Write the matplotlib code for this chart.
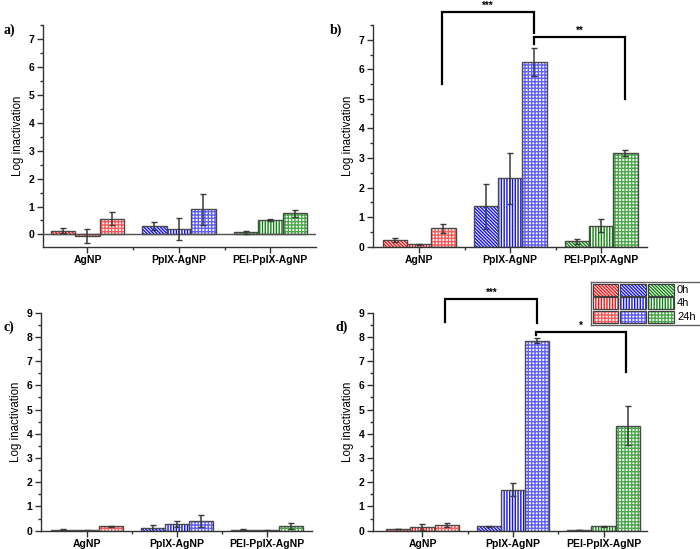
import matplotlib
matplotlib.use('Agg')
import matplotlib.pyplot as plt
from matplotlib.patches import Rectangle
from matplotlib.ticker import MultipleLocator

plt.rcParams['font.family'] = ['Liberation Sans', 'DejaVu Sans']
plt.rcParams['font.weight'] = 'bold'
plt.rcParams['hatch.linewidth'] = 1.0

groups = ['AgNP', 'PpIX-AgNP', 'PEI-PpIX-AgNP']
times = ['0h', '4h', '24h']

# 値: 行 = 0h, 4h, 24h / 列 = AgNP, PpIX-AgNP, PEI-PpIX-AgNP
a_mean = [[0.13, 0.31, 0.07], [-0.05, 0.20, 0.52], [0.56, 0.90, 0.75]]
a_err = [[0.09, 0.14, 0.04], [0.26, 0.40, 0.04], [0.24, 0.56, 0.11]]
b_mean = [[0.23, 1.36, 0.18], [0.08, 2.32, 0.71], [0.62, 6.24, 3.17]]
b_err = [[0.07, 0.77, 0.09], [0.02, 0.86, 0.22], [0.14, 0.48, 0.10]]
c_mean = [[0.04, 0.12, 0.04], [0.01, 0.27, 0.01], [0.18, 0.40, 0.18]]
c_err = [[0.02, 0.13, 0.02], [0.01, 0.11, 0.01], [0.02, 0.24, 0.12]]
d_mean = [[0.07, 0.19, 0.03], [0.15, 1.69, 0.18], [0.23, 7.85, 4.33]]
d_err = [[0.02, 0.02, 0.01], [0.12, 0.27, 0.03], [0.07, 0.12, 0.81]]

# 有意差の括弧: (x左, x右, 左脚下端, 上端, 右脚下端, 記号)
b_brackets = [(0.25, 1.267, 5.5, 7.93, 7.22, '***'), (1.267, 2.267, 6.85, 7.08, 4.98, '**')]
d_brackets = [(0.25, 1.27, 8.62, 9.55, 8.58, '***'), (1.25, 2.25, 8.07, 8.21, 6.55, '*')]

group_colors = ['#ff1010', '#1010ff', '#0f820f']
group_colors_light = ['#ff5a5a', '#6060ff', '#4aa84a']
hatches = ['\\' * 10, '|' * 6, '+' * 5]
width = 0.267

W, H = 700, 549
fig = plt.figure(figsize=(7.0, 5.49), dpi=100)


def px_axes(left, top, right, bottom):
    return fig.add_axes([left / W, 1 - bottom / H, (right - left) / W, (bottom - top) / H])


def draw_panel(ax, mean, err, ylim, xlim, ymax_tick, zero_line=False):
    for ti in range(3):
        for gi in range(3):
            x = gi + (ti - 1) * width
            col = group_colors_light[gi] if ti == 2 else group_colors[gi]
            ax.bar(x, mean[ti][gi], width, color='white', edgecolor=col,
                   hatch=hatches[ti], linewidth=0, zorder=2)
            ax.bar(x, mean[ti][gi], width, fill=False, edgecolor='#4a4a4a',
                   linewidth=1.0, zorder=3)
            ax.errorbar(x, mean[ti][gi], yerr=err[ti][gi], fmt='none',
                        ecolor='#3a3a3a', elinewidth=1.1, capsize=2.5,
                        capthick=1.0, zorder=4)
    if zero_line:
        ax.axhline(0, color='#505050', lw=1.0, zorder=3)
    ax.set_xlim(*xlim)
    ax.set_ylim(*ylim)
    ax.set_xticks([0, 1, 2])
    ax.set_xticklabels(groups)
    ax.set_xticks([0.5, 1.5], minor=True)
    ax.set_yticks(range(0, ymax_tick + 1))
    ax.yaxis.set_minor_locator(MultipleLocator(0.5))
    ax.tick_params(axis='both', which='major', direction='out', length=4,
                   width=1, color='#333333', labelsize=7.5, pad=2)
    ax.tick_params(axis='both', which='minor', direction='out', length=2.5,
                   width=1, color='#333333')
    for s in ['top', 'right']:
        ax.spines[s].set_visible(False)
    for s in ['left', 'bottom']:
        ax.spines[s].set_color('#333333')
        ax.spines[s].set_linewidth(1.0)
    ax.set_ylabel('Log inactivation', fontsize=8.3, labelpad=3)


def draw_brackets(ax, brackets, fs):
    for x0, x1, y0, ytop, y1, sig in brackets:
        ax.plot([x0, x0, x1, x1], [y0, ytop, ytop, y1], color='black', lw=1.6,
                clip_on=False, zorder=5, solid_joinstyle='miter')
        ax.text((x0 + x1) / 2, ytop + 0.05, sig, ha='center', va='bottom',
                fontsize=fs, clip_on=False)


ax_a = px_axes(42.7, 25, 316, 247)
draw_panel(ax_a, a_mean, a_err, (-0.45, 7.5), (-0.49, 2.5), 7, zero_line=True)

ax_b = px_axes(372.7, 25, 646.7, 246.7)
draw_panel(ax_b, b_mean, b_err, (0, 7.5), (-0.51, 2.5), 7)
draw_brackets(ax_b, b_brackets, 7)

ax_c = px_axes(40.7, 312.7, 311.7, 530.7)
draw_panel(ax_c, c_mean, c_err, (0, 9), (-0.51, 2.5), 9)

ax_d = px_axes(372.7, 312.7, 647, 530.7)
draw_panel(ax_d, d_mean, d_err, (0, 9), (-0.55, 2.48), 9)
draw_brackets(ax_d, d_brackets, 7)

for lab, (x, y) in zip(['a)', 'b)', 'c)', 'd)'], [(4, 30), (330, 30), (4, 327), (336, 327)]):
    fig.text(x / W, 1 - y / H, lab, fontsize=10, fontweight='bold',
             family='Liberation Serif', va='center', ha='left')

# 凡例
leg = px_axes(591, 282, 703, 324.5)
leg.set_xlim(591, 703)
leg.set_ylim(324.5, 282)
leg.set_xticks([])
leg.set_yticks([])
for s in leg.spines.values():
    s.set_color('#606060')
    s.set_linewidth(1.0)
col_x = [592.5, 620.3, 648.3]
row_y = [283.5, 297.3, 311.2]
for ti in range(3):
    for gi in range(3):
        col = group_colors_light[gi] if ti == 2 else group_colors[gi]
        leg.add_patch(Rectangle((col_x[gi], row_y[ti]), 25.5, 12, facecolor='white',
                                edgecolor=col, hatch=hatches[ti], linewidth=0))
        leg.add_patch(Rectangle((col_x[gi], row_y[ti]), 25.5, 12, fill=False,
                                edgecolor='#404040', linewidth=0.9))
    leg.text(677, row_y[ti] + 6, times[ti], fontsize=8, fontweight='normal',
             va='center', ha='left')

fig.savefig('out.png', dpi=100)
